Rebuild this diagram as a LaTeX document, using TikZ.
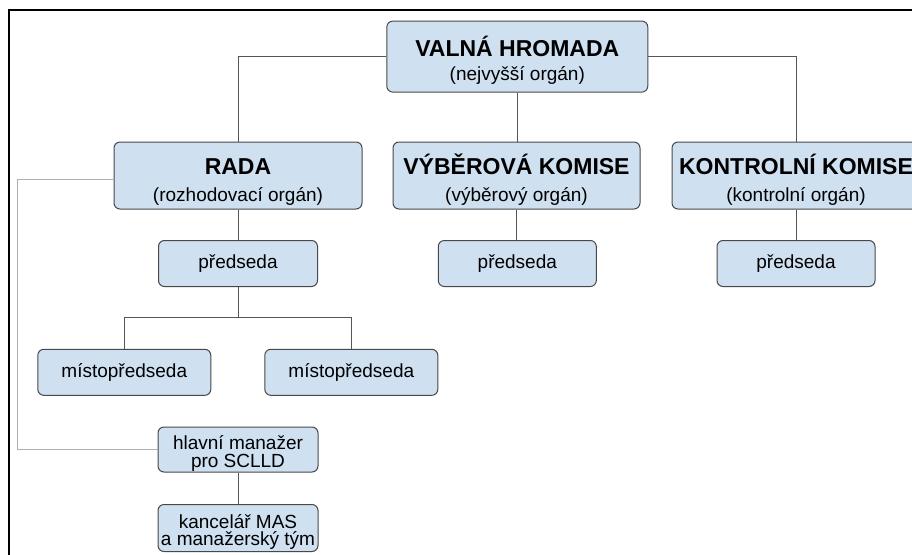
\documentclass[tikz,border=0pt]{standalone}
\usepackage{fontspec}
\setmainfont{Liberation Sans}
\definecolor{boxfill}{RGB}{207,224,241}
\definecolor{boxline}{RGB}{72,72,72}
\definecolor{conn}{RGB}{85,85,85}
\definecolor{connlight}{RGB}{175,175,175}
\newcommand\onel[1]{\raisebox{-5pt}[0pt][0pt]{#1}}
\newcommand\twol[4]{\raisebox{#1}[0pt][0pt]{\vtop{\baselineskip=#2\lineskiplimit=-100pt\lineskip=0pt\halign{\hfil##\hfil\cr#3\cr#4\cr}}}}
\newcommand\ttl[1]{{\fontsize{23}{23}\selectfont\bfseries #1}}
\newcommand\sub[1]{{\fontsize{19}{19}\selectfont #1}}
\tikzset{
  orgbox/.style 2 args={draw=boxline, fill=boxfill, rounded corners=6pt,
    line width=1pt, inner sep=0pt, minimum width=#1, minimum height=#2,
    font=\fontsize{19}{19}\selectfont},
  link/.style={draw=conn, line width=1pt},
  lightlink/.style={draw=connlight, line width=1pt},
  frameline/.style={draw=black, line width=1.4pt}
}
\begin{document}
\begin{tikzpicture}[x=1pt, y=-1pt]
\useasboundingbox (0,0) rectangle (912,554);
\fill[white] (0,0) rectangle (912,554);
\clip (0,0) rectangle (912,554);
\draw[frameline] (9,560) -- (9,10) -- (920,10);

% nodes
\node[orgbox={261pt}{71pt}] (vh) at (517.3,56.6)
  {\twol{0pt}{24pt}{\ttl{VALNÁ HROMADA}}{\sub{(nejvyšší orgán)}}};
\node[orgbox={248pt}{67pt}] (rada) at (238,175.5)
  {\twol{1pt}{27pt}{\ttl{RADA}}{\sub{(rozhodovací orgán)}}};
\node[orgbox={247pt}{67pt}] (vk) at (516.5,175.5)
  {\twol{1pt}{27pt}{\ttl{VÝBĚROVÁ KOMISE}}{\sub{(výběrový orgán)}}};
\node[orgbox={248pt}{67pt}] (kk) at (796,175.5)
  {\twol{1pt}{27pt}{\ttl{KONTROLNÍ KOMISE}}{\sub{(kontrolní orgán)}}};
\node[orgbox={159pt}{46pt}] (p1) at (238,263.5) {\onel{předseda}};
\node[orgbox={158pt}{46pt}] (p2) at (517.3,263.5) {\onel{předseda}};
\node[orgbox={158pt}{46pt}] (p3) at (796,263.5) {\onel{předseda}};
\node[orgbox={173pt}{46pt}] (m1) at (124.3,372.3) {\onel{místopředseda}};
\node[orgbox={173pt}{46pt}] (m2) at (351.3,372.3) {\onel{místopředseda}};
\node[orgbox={160pt}{45pt}] (hm) at (238,449.5)
  {\twol{0pt}{17.5pt}{hlavní manažer}{pro SCLLD}};
\node[orgbox={160pt}{47pt}] (kc) at (238,528)
  {\twol{0pt}{17.5pt}{kancelář MAS}{a manažerský tým}};

\coordinate (pj) at (238,317.7);
\coordinate (lc) at (17.7,300);

% connectors
\draw[link] (vh.west) -| (rada.north);
\draw[link] (vh.south) -- (vh.south |- vk.north);
\draw[link] (vh.east) -| (kk.north);
\draw[link] (rada.south) -- (p1.north);
\draw[link] (vk.south) -- (vk.south |- p2.north);
\draw[link] (kk.south) -- (p3.north);
\draw[link] (p1.south) -- (pj);
\draw[link] (m1.north) |- (pj) -| (m2.north);
\draw[lightlink] ([yshift=-3.5pt]rada.west) -| (lc |- hm.west) -- (hm.west);
\draw[link] (hm.south) -- (kc.north);
\end{tikzpicture}
\end{document}
